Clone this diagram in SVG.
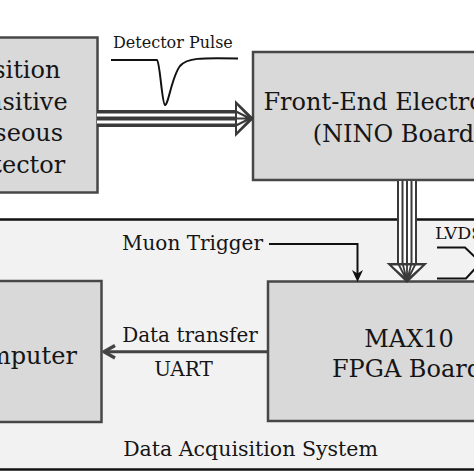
<svg xmlns="http://www.w3.org/2000/svg" width="474" height="474" viewBox="0 0 474 474">
<style>
.box{fill:#d9d9d9;stroke:#474747;stroke-width:2.5}
.big{font-family:"DejaVu Serif","Liberation Serif",serif;font-size:24px;fill:#151515;text-anchor:middle}
.mid{font-family:"DejaVu Serif","Liberation Serif",serif;font-size:20px;fill:#151515}
.sm{font-family:"DejaVu Serif","Liberation Serif",serif;font-size:16px;fill:#151515}
.ln{fill:none;stroke:#111;stroke-width:2}
</style>
<rect width="474" height="474" fill="#fff"/>
<g id="daq">
<rect x="-10" y="219.5" width="500" height="250" fill="#f2f2f2" stroke="#111" stroke-width="2.5"/>
<text class="mid" x="250.5" y="456" text-anchor="middle" style="font-size:20.5px">Data Acquisition System</text>
</g>
<g id="detector">
<rect class="box" x="-60" y="37.5" width="157.5" height="155"/>
<text class="big" x="12" y="78">Position</text>
<text class="big" x="12" y="109.5">Sensitive</text>
<text class="big" x="12" y="141">Gaseous</text>
<text class="big" x="12" y="173">Detector</text>
</g>
<g id="frontend">
<rect class="box" x="253" y="52" width="290" height="128"/>
<text class="big" x="398" y="110">Front-End Electronics</text>
<text class="big" x="398" y="142">(NINO Board)</text>
</g>
<g id="computer">
<rect class="box" x="-65" y="281" width="166.5" height="141"/>
<text class="big" x="16" y="364">Computer</text>
</g>
<g id="fpga">
<rect class="box" x="268" y="281.5" width="280" height="139.5"/>
<text class="big" x="409" y="347">MAX10</text>
<text class="big" x="407" y="377">FPGA Board</text>
</g>
<g id="connectors">
<text class="sm" x="113" y="47.5">Detector Pulse</text>
<path class="ln" d="M111,60 L157,60 C160,62 162,104 165,105 C168,106 172,76 180,66 C187,58 200,57.5 238,58.5"/>
<rect x="97" y="110" width="139" height="17" fill="#3a3a3a"/>
<line x1="97" y1="115" x2="238" y2="115" stroke="#fff" stroke-width="3"/>
<line x1="97" y1="122" x2="238" y2="122" stroke="#fff" stroke-width="3"/>
<polygon points="235,100 254,118.5 235,137" fill="#3a3a3a"/>
<polygon points="237,105.5 249.5,118.5 237,131.5" fill="#fff"/>
<path d="M236,111.5 L250,118.5 L236,125.5 M236,118.5 H250" fill="none" stroke="#3a3a3a" stroke-width="2.2"/>
<rect x="397" y="181" width="20" height="82" fill="#fff"/>
<path d="M398,181V263 M402.5,181V263 M407,181V263 M411.5,181V263 M416,181V263" fill="none" stroke="#3a3a3a" stroke-width="2"/>
<polygon points="386.5,263 427.5,263 407,283" fill="#3a3a3a"/>
<polygon points="392,265.5 422,265.5 407,279" fill="#fff"/>
<path d="M398,263 L407,281 M402.5,263 L407,281 M407,263 V281 M411.5,263 L407,281 M416,263 L407,281" fill="none" stroke="#3a3a3a" stroke-width="1.8"/>
<text class="mid" x="122" y="250">Muon Trigger</text>
<path class="ln" d="M269,244 H357.5 V274"/>
<polygon points="352,270 357.5,282 363,270 357.5,273.5" fill="#111"/>
<text class="sm" x="435" y="239" style="font-size:17.5px">LVDS</text>
<path class="ln" d="M437,247.5 H465 L481,263"/>
<path class="ln" d="M437,278.5 H466 L481,262"/>
<text class="mid" x="190" y="342" text-anchor="middle">Data transfer</text>
<text class="mid" x="183.5" y="376" text-anchor="middle">UART</text>
<line x1="268" y1="351.7" x2="105" y2="351.7" stroke="#444" stroke-width="3"/>
<path d="M115,345.5 L104,351.7 L115,358" fill="none" stroke="#444" stroke-width="3.4" stroke-linejoin="round"/>
</g>
</svg>
